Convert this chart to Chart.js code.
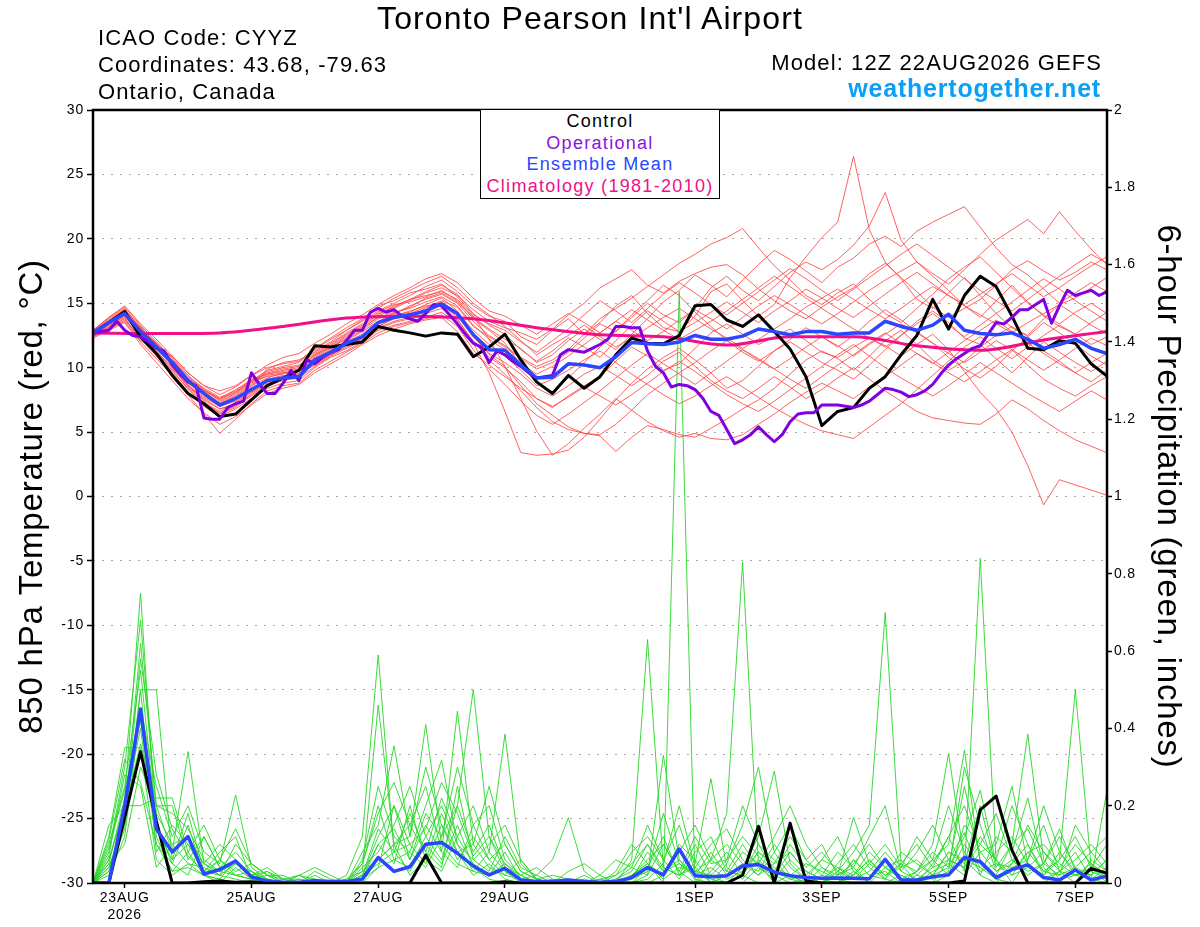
<!DOCTYPE html>
<html>
<head>
<meta charset="utf-8">
<title>Toronto Pearson Int'l Airport - GEFS</title>
<script src="https://cdn.jsdelivr.net/npm/chart.js@4.4.1/dist/chart.umd.min.js"></script>
<style>
  html, body { margin: 0; padding: 0; background: #fff; }
  #wrap { position: relative; width: 1200px; height: 927px; overflow: hidden;
          font-family: "Liberation Sans", Arial, sans-serif; color: #000; }
  #wrap canvas { position: absolute; left: 0; top: 0; }
  .txt { position: absolute; line-height: 1; white-space: nowrap; }
  .hdr { font-size: 22px; letter-spacing: 1.1px; }
  #legend { position: absolute; left: 480px; top: 109px; width: 240px; height: 90px;
            box-sizing: border-box; border: 1.5px solid #000; background: #fff; }
  #legend div { position: absolute; left: 0; width: 100%; text-align: center;
                font-size: 18px; letter-spacing: 1.3px; line-height: 1; white-space: nowrap; }
</style>
</head>
<body>
<div id="wrap">
  <canvas id="chart" width="1200" height="927"></canvas>

  <div class="txt" style="left:0; width:1180px; top:2px; text-align:center; font-size:32px; letter-spacing:1.1px;">Toronto Pearson Int'l Airport</div>
  <div class="txt hdr" style="left:98px; top:27px;">ICAO Code: CYYZ</div>
  <div class="txt hdr" style="left:98px; top:54px;">Coordinates: 43.68, -79.63</div>
  <div class="txt hdr" style="left:98px; top:81px;">Ontario, Canada</div>
  <div class="txt hdr" style="right:98px; top:52px;">Model: 12Z 22AUG2026 GEFS</div>
  <div class="txt" style="right:99px; top:76px; font-size:25px; font-weight:bold; letter-spacing:0.8px; color:#0aa0f8;">weathertogether.net</div>

  <div id="legend">
    <div style="top:2px; color:#000;">Control</div>
    <div style="top:23.5px; color:#8a14e0;">Operational</div>
    <div style="top:45px; color:#2a48ff;">Ensemble Mean</div>
    <div style="top:66.5px; color:#f0108a;">Climatology (1981-2010)</div>
  </div>
</div>

<script>
// forecast from 12Z 22AUG, 6-hourly (ensemble, control, mean) and 3-hourly (operational)
const stepHours = 6;
const opStepHours = 3;

const tickHours = [12, 60, 108, 156, 228, 276, 324, 372];
const tickLabels = [['23AUG', '2026'], '25AUG', '27AUG', '29AUG', '1SEP', '3SEP', '5SEP', '7SEP'];

// climatology, once a day
const climHours = [0, 24, 48, 72, 96, 120, 144, 168, 192, 216, 240, 264, 288, 312, 336, 360, 384];
const climTemp = [12.7, 12.65, 12.7, 13.2, 13.85, 14.0, 13.8, 13.1, 12.55, 12.4, 11.75, 12.4, 12.4, 11.7, 11.35, 12.15, 12.8];

// 850 hPa temperature, deg C
const ctrlTemp = [12.7,13.5,14.35,12.4,11.1, 9.4,8.0,7.2,6.2,6.4, 7.5,8.6,9.2,9.8,11.7, 11.6,11.8,12.0,13.2,12.9,
  12.7,12.45,12.7,12.6,10.85, 11.6,12.6,10.6,8.9,8.0, 9.4,8.4,9.3,11.0,12.3, 11.9,11.85,12.5,14.8,14.9,
  13.7,13.2,14.1,12.8,11.45, 9.3,5.5,6.6,6.9,8.4, 9.3,11.0,12.5,15.3,13.0, 15.6,17.1,16.3,14.0,11.5,
  11.4,12.1,11.9,10.3,9.35];

const meanTemp = [12.7,13.5,14.2,12.8,11.6, 10.4,9.0,8.0,7.1,7.6, 8.3,9.0,9.2,9.3,10.6, 11.2,11.9,12.4,13.5,13.9,
  14.1,14.4,14.95,14.2,12.55, 11.4,11.35,10.2,9.2,9.25, 10.3,10.2,10.0,10.85,11.95, 11.85,11.8,12.0,12.5,12.2,
  12.2,12.45,13.0,12.8,12.55, 12.8,12.8,12.6,12.7,12.7, 13.6,13.2,12.9,13.3,14.15, 12.9,12.65,12.55,12.7,12.2,
  11.5,11.8,12.2,11.5,11.1];

const opTemp = [12.7,12.8,12.9,13.6,12.9, 12.5,12.4,12.0,11.5,11.3, 10.2,9.5,8.9,8.6,6.1, 6.0,6.0,6.9,7.2,7.4,
  9.6,8.7,8.0,8.0,8.8, 9.8,9.0,10.6,10.3,10.8, 11.2,11.4,12.1,12.9,12.9, 14.3,14.6,14.3,14.5,14.0,
  13.8,13.6,14.2,14.9,14.8, 14.1,13.4,12.6,11.9,11.6, 10.4,11.3,11.0,10.5,10.1, 9.6,9.2,9.3,9.4,11.0,
  11.4,11.3,11.2,11.5,11.8, 12.2,13.2,13.2,13.1,13.1, 11.3,10.1,9.6,8.5,8.7, 8.6,8.3,7.6,6.6,6.3,
  5.2,4.1,4.4,4.8,5.4, 4.8,4.25,4.8,5.8,6.4, 6.5,6.5,7.1,7.1,7.1, 7.0,6.9,7.1,7.4,7.9,
  8.4,8.3,8.1,7.75,7.9, 8.2,8.7,9.5,10.2,10.7, 11.1,11.5,11.7,12.6,13.5, 13.4,13.9,14.5,14.5,14.9,
  15.3,13.45,14.8,16.0,15.6, 15.8,16.0,15.6,15.9];

const memT01 = [12.9,13.8,14.6,13.0,11.9, 10.8,9.4,8.3,7.4,8.0, 8.9,9.6,9.9,10.1,11.3, 12.0,12.9,13.6,14.4,15.0,
  15.6,16.3,16.8,15.9,14.8, 14.0,13.6,12.4,11.8,12.9, 13.8,12.6,13.5,14.8,15.6, 14.2,13.1,12.8,14.0,15.9,
  16.5,15.2,14.0,14.9,17.0, 18.6,20.1,21.3,26.4,20.7, 18.2,16.9,15.3,14.6,15.8, 17.0,15.6,14.2,13.1,12.5,
  13.8,14.9,15.4,16.2,17.0];
const memT02 = [12.5,13.2,14.0,12.5,11.2, 10.1,8.6,7.6,6.8,7.1, 7.9,8.7,9.1,9.6,10.2, 10.9,11.8,12.2,13.1,13.6,
  13.9,14.6,15.2,14.7,13.2, 12.4,11.6,10.7,9.9,10.4, 11.2,12.3,13.4,12.8,13.9, 15.0,14.1,13.5,14.6,16.2,
  17.1,16.0,15.2,16.3,17.4, 18.2,17.6,18.4,19.5,21.0, 23.6,19.9,18.2,17.1,16.0, 14.8,13.9,15.2,16.4,15.1,
  14.0,13.2,12.6,13.5,14.3];
const memT03 = [12.8,13.6,14.3,13.1,11.7, 10.6,9.1,8.2,7.6,8.3, 9.0,9.3,9.5,9.8,10.9, 11.6,12.2,12.9,13.8,14.2,
  14.7,15.4,15.8,15.1,13.9, 13.0,12.2,11.5,10.4,11.0, 12.1,13.0,12.2,11.4,12.6, 13.8,15.1,16.0,17.2,16.4,
  15.5,16.8,18.0,19.1,18.4, 17.5,16.6,17.8,18.5,19.6, 20.2,19.4,20.6,21.3,21.9, 22.5,20.9,19.3,18.0,17.2,
  16.1,15.0,15.8,16.6,15.9];
const memT04 = [12.4,13.0,13.7,12.2,10.9, 9.6,8.1,7.0,6.2,6.8, 7.6,8.4,8.8,9.0,10.0, 10.8,11.3,12.0,12.9,13.3,
  13.6,13.9,14.3,13.5,12.0, 10.8,10.0,8.9,7.6,6.9, 7.8,8.6,9.3,10.5,11.6, 10.9,9.8,10.3,11.5,12.7,
  13.4,12.6,11.8,12.4,13.0, 12.1,11.2,10.8,11.6,12.3, 11.7,10.9,11.8,12.6,11.4, 9.7,8.1,6.8,5.0,2.4,
  -0.65,1.3,0.9,0.5,0.1];
const memT05 = [12.6,13.4,14.1,12.7,11.4, 10.2,8.8,7.8,7.0,7.4, 8.2,9.1,9.4,9.3,10.5, 11.1,11.7,12.5,13.4,14.0,
  14.4,14.8,15.0,13.8,11.9, 9.6,6.6,3.4,3.2,3.3, 3.6,4.6,6.0,7.5,8.8, 9.9,10.8,11.5,10.6,9.6,
  8.4,9.0,10.1,11.3,12.0, 11.2,10.4,9.8,9.1,10.2, 11.4,12.5,13.6,14.4,13.5, 12.3,11.8,10.7,9.6,10.8,
  12.0,11.2,10.4,9.7,10.5];
const memT06 = [12.7,13.5,14.4,12.9,11.6, 10.3,8.7,7.4,6.4,6.9, 8.0,8.8,9.1,9.5,10.7, 11.4,12.0,12.6,13.5,14.1,
  14.3,14.9,15.4,14.4,12.6, 11.0,10.1,8.6,7.2,6.3, 5.4,4.9,4.7,3.5,4.6, 5.5,5.2,4.8,4.6,5.3,
  6.0,6.8,7.5,8.4,9.5, 10.6,11.3,10.7,9.8,10.9, 12.1,12.9,11.8,10.6,9.8, 10.5,11.6,12.5,13.2,12.4,
  11.3,10.5,9.6,8.9,9.8];
const memT07 = [12.6,13.6,14.5,13.2,11.8, 10.5,9.0,8.0,7.2,7.7, 8.6,9.2,9.6,9.7,10.8, 11.5,12.3,13.0,14.0,14.6,
  15.2,15.8,16.2,15.6,14.5, 13.6,13.1,12.7,12.2,13.0, 14.1,15.0,16.2,16.9,17.6, 16.4,15.8,16.7,17.3,17.8,
  18.0,17.2,16.1,15.2,14.4, 13.8,14.7,15.5,16.2,17.3, 18.1,17.0,15.9,14.7,13.9, 14.6,15.3,16.4,17.6,18.3,
  17.5,16.8,17.4,18.2,17.6];
const memT08 = [12.8,13.7,14.5,13.1,11.8, 10.4,8.9,7.9,7.2,7.8, 8.7,9.4,9.6,9.8,10.6, 11.3,12.1,12.8,13.6,14.2,
  14.8,15.3,15.7,15.0,13.6, 12.5,11.7,10.8,10.1,10.6, 11.4,12.6,13.8,14.6,15.4, 16.3,17.2,18.1,18.8,19.6,
  20.1,20.8,19.3,17.9,16.8, 15.6,14.9,15.8,16.5,15.3, 14.2,13.5,14.6,15.7,16.9, 17.8,18.6,17.4,16.2,15.0,
  14.1,13.4,14.3,15.0,14.2];
const memT09 = [12.5,13.3,14.0,12.6,11.3, 10.0,8.5,7.5,6.8,7.2, 8.1,8.9,9.3,9.4,10.3, 11.0,11.6,12.3,13.2,13.8,
  14.1,14.5,14.9,14.0,12.4, 11.1,10.4,9.5,8.4,7.8, 8.6,9.5,10.1,9.4,8.6, 9.4,10.5,11.2,10.1,9.0,
  8.2,7.6,8.4,9.3,8.5, 7.6,8.3,9.2,10.0,9.1, 8.2,7.4,6.6,6.1,5.9, 5.7,5.6,6.4,7.5,6.8,
  5.9,5.1,4.4,3.9,3.4];
const memT10 = [12.7,13.4,14.2,12.9,11.6, 10.4,9.0,8.1,7.3,7.9, 8.8,9.5,9.8,10.0,11.0, 11.6,12.4,13.1,13.9,14.3,
  14.6,15.1,15.5,14.8,13.3, 12.2,11.4,10.3,9.5,10.1, 10.9,11.8,12.7,13.6,12.9, 12.1,12.8,13.7,14.5,13.8,
  13.0,13.9,14.8,15.6,14.9, 14.1,13.4,14.2,15.1,16.0, 16.8,17.5,18.2,17.3,16.5, 17.6,18.8,19.9,20.7,21.5,
  20.4,22.1,20.6,19.2,18.0];
const memT11 = [12.6,13.3,14.1,12.4,11.1, 9.8,8.3,7.2,6.5,7.0, 7.8,8.6,9.0,9.2,10.1, 10.9,11.5,12.1,13.0,13.5,
  13.8,14.2,14.6,13.7,12.1, 10.6,9.5,8.2,6.9,5.8, 5.2,4.9,4.8,5.6,6.7, 7.9,8.8,9.6,10.4,11.3,
  12.1,11.4,10.6,9.9,10.7, 11.6,12.4,11.7,10.9,11.8, 12.6,13.4,12.7,11.9,11.1, 10.4,11.2,12.1,11.4,10.6,
  9.8,10.6,11.5,12.3,11.7];
const memT12 = [12.9,13.9,14.7,13.3,12.0, 10.7,9.2,8.3,7.6,8.1, 8.9,9.7,10.0,10.2,11.1, 11.8,12.6,13.3,14.2,14.7,
  15.3,15.6,15.9,15.3,14.0, 12.2,10.1,7.6,5.1,3.2, 4.1,5.3,6.4,7.6,6.7, 5.8,5.1,4.6,4.9,4.5,
  4.4,4.8,5.6,6.4,7.3, 8.1,8.8,8.2,7.6,8.5, 9.3,10.2,11.1,10.4,9.6, 8.9,9.7,10.6,11.4,10.2,
  9.1,8.4,7.8,8.6,9.3];
const memT13 = [12.6,13.5,14.3,13.0,11.7, 10.5,9.1,8.2,7.5,8.1, 9.0,9.8,10.1,10.4,11.4, 12.2,12.9,13.7,14.6,15.4,
  16.0,16.6,17.1,16.2,15.0, 14.1,13.2,12.1,11.0,11.8, 12.5,13.3,12.4,11.6,12.3, 13.1,13.9,14.6,13.8,13.0,
  12.3,11.5,12.2,13.0,13.8, 14.7,15.4,16.1,15.3,14.5, 13.8,14.6,15.5,16.3,15.6, 14.8,14.1,13.4,12.7,13.5,
  14.2,14.9,14.1,13.3,12.6];
const memT14 = [12.5,13.1,13.8,12.3,11.0, 9.7,8.4,7.3,6.6,7.3, 8.1,8.9,9.2,9.3,10.4, 11.0,11.8,12.4,13.2,13.9,
  14.2,14.7,15.1,14.3,12.9, 11.8,10.9,9.8,8.6,9.1, 9.8,10.6,11.3,10.4,9.5, 8.7,7.9,7.2,7.8,8.6,
  9.3,8.5,7.7,6.9,6.2, 5.6,5.1,4.8,4.5,5.4, 6.3,7.2,8.3,9.4,10.5, 11.6,12.4,11.5,10.7,11.6,
  12.5,13.3,12.6,11.8,12.4];
const memT15 = [12.7,13.6,14.4,13.1,11.9, 10.6,9.3,8.4,7.7,8.2, 9.1,9.5,9.7,9.9,11.0, 11.7,12.5,13.2,14.1,14.8,
  15.3,15.9,16.4,15.7,14.2, 13.3,12.6,11.4,10.5,11.3, 12.3,11.6,10.8,12.1,13.3, 14.4,13.6,12.8,13.5,14.3,
  15.1,14.3,13.5,14.4,15.2, 16.1,15.4,14.6,13.9,14.8, 15.7,16.6,17.4,16.5,15.6, 14.9,15.7,16.5,17.3,16.4,
  15.5,16.2,17.1,17.9,18.6];
const memT16 = [12.4,13.0,13.6,12.0,10.7, 9.4,7.9,6.4,4.9,6.0, 7.2,8.2,8.6,8.8,9.8, 10.5,11.2,11.9,12.7,13.2,
  13.5,13.8,14.1,13.2,11.4, 9.9,8.7,7.4,6.3,5.6, 6.4,7.3,8.2,9.2,10.2, 11.1,10.3,9.5,8.7,9.6,
  10.5,11.4,10.7,9.9,9.1, 8.4,9.3,10.2,11.0,11.9, 12.7,11.9,11.1,10.3,11.2, 12.1,12.9,13.7,12.8,11.9,
  11.1,10.3,9.6,10.4,11.1];
const memT17 = [12.8,13.6,14.5,12.6,11.2, 9.9,8.6,7.7,7.0,7.6, 8.5,9.9,10.4,10.6,11.2, 11.9,12.7,13.4,14.3,14.9,
  15.1,15.5,16.0,15.2,13.8, 12.9,11.9,10.2,8.8,8.1, 9.2,10.4,11.6,12.8,14.1, 15.2,16.4,15.6,14.3,13.2,
  12.1,11.2,10.5,11.3,12.2, 13.1,12.4,11.6,12.5,13.6, 14.5,13.7,12.8,11.9,10.8, 9.9,9.2,10.1,11.3,12.4,
  13.5,12.7,11.8,10.9,10.2];
const memT18 = [12.6,13.1,13.9,12.1,11.5, 10.9,9.6,8.6,8.2,8.6, 9.4,10.2,10.8,11.1,11.9, 12.6,13.4,14.1,14.9,15.6,
  16.2,16.9,17.3,16.6,15.4, 14.4,14.0,13.3,12.6,13.4, 14.2,13.5,12.7,13.6,14.5, 13.7,12.9,12.2,12.9,13.6,
  14.4,15.3,16.2,17.1,16.3, 15.4,14.6,13.8,13.0,12.3, 11.6,12.5,13.4,14.2,13.3, 12.4,13.3,14.2,15.1,16.0,
  16.9,16.1,15.2,14.4,13.6];
const memT19 = [12.3,12.9,13.5,11.8,10.4, 9.0,7.6,6.5,5.6,6.2, 7.1,8.0,8.4,8.7,9.6, 10.3,11.0,11.8,12.5,13.0,
  13.4,13.7,13.9,12.8,11.1, 10.2,9.3,8.4,7.6,7.0, 7.7,8.5,7.8,7.1,7.9, 8.8,9.7,10.5,9.7,8.8,
  7.9,7.2,6.6,7.4,8.3, 9.2,10.1,11.0,11.8,10.9, 10.0,9.2,8.5,7.8,8.6, 9.5,10.4,9.6,8.8,8.0,
  7.3,6.6,7.4,8.2,7.5];
const memT20 = [12.9,13.9,14.8,13.4,12.2, 10.9,9.6,8.6,7.9,8.5, 9.4,10.0,10.3,10.5,11.5, 12.3,13.1,13.8,14.8,15.2,
  15.8,16.1,16.5,15.5,14.1, 13.4,12.9,12.0,11.2,12.1, 13.0,14.1,15.2,14.4,13.5, 14.6,15.7,16.6,15.8,14.9,
  14.1,15.0,15.9,16.8,17.7, 16.9,16.0,15.2,16.1,17.0, 17.9,18.8,19.6,18.7,17.8, 16.9,16.0,15.2,14.4,15.3,
  16.2,17.1,18.0,18.8,18.1];

// 6-hour precipitation, inches
const ctrlPrecip = [0,0,0.17,0.34,0.16, 0,0,0.003,0.005,0.002, 0.003,0,0,0,0.004, 0.002,0,0,0,0,
  0,0.072,0,0,0, 0,0.003,0,0,0, 0,0,0,0,0, 0,0,0,0,0,
  0,0.02,0.147,0,0.155, 0.005,0,0,0,0, 0,0,0,0,0, 0.005,0.189,0.225,0.085,0,
  0,0,0,0.038,0.025];

const meanPrecip = [0,0,0.2,0.45,0.14, 0.08,0.12,0.023,0.035,0.057, 0.016,0.005,0.002,0.002,0.006, 0.004,0.004,0.01,0.066,0.03,
  0.042,0.1,0.105,0.077,0.044, 0.021,0.038,0.008,0.004,0.004, 0.008,0.004,0.002,0.004,0.014, 0.04,0.021,0.088,0.019,0.016,
  0.019,0.044,0.048,0.028,0.019, 0.014,0.012,0.013,0.012,0.011, 0.061,0.008,0.008,0.016,0.021, 0.066,0.055,0.014,0.035,0.047,
  0.014,0.008,0.034,0.008,0.018];

const memP01 = [0,0.05,0.22,0.75,0.12, 0.03,0.08,0.02,0.01,0, 0,0,0,0,0, 0,0.02,0.12,0.59,0.08,
  0.03,0.1,0.05,0.15,0.04, 0.01,0,0,0,0, 0,0,0,0,0.02, 0.05,0,1.53,0,0.03,
  0.08,0.02,0,0,0, 0,0.04,0.01,0,0, 0,0.02,0,0.05,0.12, 0.03,0.84,0.06,0,0,
  0,0.03,0.08,0.01,0];
const memP02 = [0,0.08,0.3,0.68,0.18, 0.1,0.05,0.02,0,0.04, 0.01,0,0,0,0, 0,0,0.03,0.46,0.1,
  0.02,0.06,0.18,0.08,0.02, 0.05,0.01,0,0,0, 0,0,0,0.01,0.04, 0.02,0.1,0.03,0,0.06,
  0.18,0.83,0.05,0,0.02, 0,0,0,0.03,0, 0,0,0.01,0,0.06, 0.13,0.02,0,0.05,0.1,
  0.02,0.06,0.5,0.04,0];
const memP03 = [0,0.03,0.18,0.62,0.2, 0.08,0.34,0.05,0.02,0.01, 0,0,0,0.02,0, 0,0,0.05,0.2,0.06,
  0.08,0.04,0.12,0.2,0.5, 0.12,0.03,0,0,0, 0,0,0,0,0, 0.01,0.05,0.2,0.04,0,
  0,0.02,0.1,0.06,0.01, 0,0,0.03,0.08,0.15, 0.7,0.05,0,0,0.02, 0.1,0.04,0.01,0,0.06,
  0.15,0.03,0,0,0.02];
const memP04 = [0,0.1,0.25,0.55,0.15, 0.05,0.02,0.12,0.04,0.02, 0.03,0,0,0,0, 0,0,0.08,0.15,0.355,
  0.12,0.41,0.1,0.05,0.03, 0.02,0.08,0.01,0,0, 0,0,0,0,0.06, 0.63,0.04,0.02,0.1,0.02,
  0,0.04,0.12,0.29,0.05, 0.01,0,0,0.02,0.06, 0.01,0,0,0.02,0.08, 0.05,0.2,0.04,0.1,0.385,
  0.06,0.01,0.02,0.04,0.1];
const memP05 = [0,0.04,0.15,0.5,0.08, 0.15,0.1,0.03,0.06,0.02, 0.01,0.03,0,0,0, 0,0,0,0.04,0.2,
  0.06,0.15,0.08,0.445,0.1, 0.04,0.02,0.06,0.01,0, 0,0,0,0,0, 0.02,0.33,0.06,0.01,0,
  0.05,0.15,0.3,0.08,0.02, 0,0.02,0.08,0.04,0, 0,0,0.03,0.1,0.335, 0.06,0.02,0.12,0.08,0.22,
  0.04,0,0,0.06,0.03];
const memP06 = [0,0.02,0.12,0.45,0.25, 0.12,0.2,0.08,0.05,0.228, 0.04,0.01,0,0,0, 0,0,0.02,0.1,0.05,
  0.2,0.06,0.03,0.12,0.2, 0.08,0.385,0.05,0.01,0, 0,0,0,0,0.01, 0.08,0.03,0.05,0.02,0.01,
  0,0,0.04,0.02,0.08, 0.03,0.01,0,0.06,0.02, 0.03,0,0.02,0.06,0.1, 0.344,0.05,0.01,0.03,0.08,
  0.1,0.05,0.02,0.01,0.24];
const memP07 = [0,0.06,0.2,0.4,0.1, 0.05,0.15,0.02,0.01,0.06, 0.02,0.04,0.01,0,0.03, 0.01,0,0.06,0.25,0.12,
  0.08,0.2,0.318,0.1,0.06, 0.03,0.12,0.04,0.02,0.06, 0.169,0.03,0,0,0, 0.04,0.12,0.02,0.05,0.27,
  0.04,0.01,0.06,0.02,0, 0.01,0.06,0.12,0.03,0, 0.04,0.02,0,0.03,0.05, 0.02,0.08,0.1,0.25,0.05,
  0.01,0.03,0.06,0.1,0.05];
const memP08 = [0,0.12,0.35,0.35,0.06, 0.02,0.05,0.04,0.02,0.1, 0.05,0.02,0,0,0.02, 0,0,0.04,0.08,0.15,
  0.25,0.12,0.06,0.2,0.08, 0.15,0.04,0.02,0,0, 0.03,0.05,0.02,0,0, 0,0.02,0.1,0.06,0,
  0.02,0.08,0.05,0.12,0.2, 0.1,0.04,0.02,0.17,0.05, 0.02,0.05,0.03,0.06,0.02, 0.15,0.1,0.06,0.02,0.04,
  0.08,0.04,0.1,0.05,0.01];
const memP09 = [0,0.05,0.1,0.3,0.2, 0.2,0.06,0.12,0.04,0.08, 0.03,0.01,0,0.02,0.04, 0.02,0,0.02,0.12,0.2,
  0.1,0.05,0.15,0.06,0.12, 0.06,0.1,0.03,0.01,0, 0,0,0.02,0.06,0.04, 0.15,0.06,0.01,0.08,0.12,
  0.03,0.1,0.04,0.01,0.06, 0.02,0,0.05,0.1,0.04, 0.01,0.08,0.05,0.02,0.04, 0.25,0.06,0.02,0.1,0.14,
  0.05,0.12,0.04,0.02,0.06];
const memP10 = [0,0.07,0.28,0.25,0.04, 0.1,0.12,0.05,0.03,0.05, 0.02,0.03,0.01,0.01,0, 0,0.01,0.03,0.06,0.1,
  0.15,0.25,0.08,0.04,0.15, 0.2,0.06,0.02,0.04,0.01, 0,0.02,0,0.03,0.1, 0.05,0.01,0.04,0.03,0.06,
  0.1,0.05,0.02,0.08,0.15, 0.06,0.1,0.02,0.04,0.12, 0.2,0.03,0.08,0.15,0.06, 0.04,0.12,0.06,0.2,0.1,
  0.03,0.02,0.15,0.08,0.12];
const memP11 = [0,0.15,0.2,0.2,0.22, 0.22,0.08,0.15,0.06,0.03, 0.05,0.02,0.02,0,0.01, 0,0,0.01,0.04,0.06,
  0.04,0.12,0.2,0.1,0.03, 0.08,0.03,0.01,0.02,0, 0,0,0.01,0.02,0.05, 0.1,0.03,0.06,0.02,0.04,
  0.01,0.03,0.08,0.04,0.02, 0.05,0.03,0.01,0.02,0.08, 0.04,0.06,0.02,0.01,0.03, 0.3,0.15,0.03,0.06,0.02,
  0.05,0.14,0.03,0.01,0.04];
const memP12 = [0,0.03,0.14,0.5,0.5, 0.06,0.18,0.03,0.08,0.12, 0.01,0,0.01,0.02,0.01, 0,0,0.02,0.05,0.08,
  0.18,0.08,0.04,0.25,0.06, 0.1,0.15,0.06,0.01,0.02, 0.01,0,0,0,0.02, 0.06,0.1,0.03,0.12,0.05,
  0.06,0.2,0.1,0.03,0.1, 0.04,0.08,0.03,0.01,0.05, 0.1,0.04,0.12,0.06,0.2, 0.08,0.03,0.05,0.04,0.06,
  0.2,0.08,0.02,0.03,0.01];
const memP13 = [0,0.09,0.24,0.42,0.14, 0.06,0.1,0.05,0.1,0.06, 0.02,0.01,0,0,0.01, 0,0.01,0.05,0.18,0.26,
  0.15,0.08,0.22,0.12,0.05, 0.02,0.05,0.02,0,0.01, 0,0.01,0,0.02,0.08, 0.12,0.06,0.15,0.03,0.02,
  0.06,0.12,0.07,0.03,0.01, 0.02,0.06,0.04,0.01,0.03, 0.08,0.03,0.01,0.04,0.12, 0.2,0.08,0.03,0.05,0.15,
  0.08,0.03,0.02,0.05,0.02];
const memP14 = [0,0.04,0.16,0.58,0.28, 0.14,0.07,0.03,0.02,0.05, 0.03,0,0,0,0, 0,0,0.01,0.1,0.14,
  0.06,0.18,0.12,0.3,0.15, 0.06,0.02,0.01,0,0, 0,0,0,0,0.01, 0.03,0.18,0.05,0.02,0.08,
  0.02,0.05,0.03,0.1,0.04, 0.01,0,0.02,0.05,0.1, 0.04,0.01,0.03,0.08,0.04, 0.12,0.24,0.05,0.02,0.08,
  0.03,0.06,0.12,0.04,0.01];
const memP15 = [0,0.11,0.32,0.26,0.1, 0.03,0.04,0.02,0.06,0.14, 0.05,0.02,0.01,0,0, 0,0,0.02,0.06,0.1,
  0.12,0.3,0.15,0.08,0.1, 0.25,0.1,0.03,0.01,0, 0,0,0.01,0,0.02, 0.05,0.02,0.08,0.15,0.06,
  0.03,0.02,0.08,0.05,0.12, 0.06,0.02,0.01,0.06,0.02, 0.01,0.05,0.1,0.04,0.06, 0.04,0.1,0.18,0.06,0.03,
  0.05,0.02,0.04,0.08,0.03];
const memP16 = [0,0.06,0.19,0.36,0.2, 0.18,0.14,0.06,0.03,0.02, 0.01,0.02,0,0.01,0, 0,0,0.02,0.14,0.08,
  0.1,0.14,0.26,0.18,0.07, 0.12,0.05,0.01,0,0, 0,0,0,0.01,0.03, 0.1,0.04,0.02,0.04,0.1,
  0.14,0.06,0.02,0.05,0.08, 0.03,0.01,0.04,0.02,0.06, 0.02,0.04,0.06,0.02,0.08, 0.06,0.04,0.08,0.12,0.05,
  0.02,0.08,0.03,0.02,0.06];

const tempMembers = [memT01, memT02, memT03, memT04, memT05, memT06, memT07, memT08, memT09, memT10,
                     memT11, memT12, memT13, memT14, memT15, memT16, memT17, memT18, memT19, memT20];
const precipMembers = [memP01, memP02, memP03, memP04, memP05, memP06, memP07, memP08,
                       memP09, memP10, memP11, memP12, memP13, memP14, memP15, memP16];

function series(values, step) {
  return values.map((v, i) => ({ x: i * step, y: v }));
}

const datasets = [];
tempMembers.forEach(m => datasets.push({
  data: series(m, stepHours), yAxisID: 'y', borderColor: 'rgba(255,70,70,0.85)', borderWidth: 1, order: 9
}));
precipMembers.forEach(m => datasets.push({
  data: series(m, stepHours), yAxisID: 'y2', borderColor: 'rgba(40,215,40,0.9)', borderWidth: 1, order: 8
}));
datasets.push({
  data: climHours.map((h, i) => ({ x: h, y: climTemp[i] })), yAxisID: 'y',
  borderColor: '#f0108a', borderWidth: 3, cubicInterpolationMode: 'monotone', order: 5
});
datasets.push({ data: series(ctrlPrecip, stepHours), yAxisID: 'y2', borderColor: '#000', borderWidth: 3, order: 4 });
datasets.push({ data: series(ctrlTemp, stepHours), yAxisID: 'y', borderColor: '#000', borderWidth: 3, order: 4 });
datasets.push({ data: series(opTemp, opStepHours), yAxisID: 'y', borderColor: '#8000e0', borderWidth: 3, order: 3 });
datasets.push({ data: series(meanPrecip, stepHours), yAxisID: 'y2', borderColor: '#2a46ff', borderWidth: 3.5, order: 2 });
datasets.push({ data: series(meanTemp, stepHours), yAxisID: 'y', borderColor: '#2a46ff', borderWidth: 3.5, order: 2 });

const framePlugin = {
  id: 'frame',
  beforeInit(chart) { chart.ctx.letterSpacing = '0.8px'; },
  beforeDraw(chart) { chart.ctx.letterSpacing = '0.8px'; },
  afterDraw(chart) {
    const { ctx, chartArea: a } = chart;
    ctx.save();
    ctx.strokeStyle = '#000';
    ctx.lineWidth = 2.5;
    ctx.strokeRect(a.left, a.top, a.right - a.left, a.bottom - a.top);
    ctx.restore();
  }
};

Chart.defaults.font.family = '"Liberation Sans", Arial, sans-serif';
Chart.defaults.color = '#000';

new Chart(document.getElementById('chart'), {
  type: 'line',
  data: { datasets },
  plugins: [framePlugin],
  options: {
    responsive: false,
    animation: false,
    devicePixelRatio: 1,
    layout: { padding: { top: 110, left: 0, right: 0, bottom: 0 } },
    elements: {
      point: { radius: 0 },
      line: { tension: 0, borderJoinStyle: 'round', borderCapStyle: 'round' }
    },
    plugins: { legend: { display: false }, tooltip: { enabled: false } },
    scales: {
      x: {
        type: 'linear', min: 0, max: 384,
        afterBuildTicks: s => { s.ticks = tickHours.map(v => ({ value: v })); },
        afterFit: s => { s.height = 44; },
        ticks: {
          autoSkip: false, maxRotation: 0, padding: 2, font: { size: 14 },
          callback: v => tickLabels[tickHours.indexOf(v)]
        },
        grid: { drawOnChartArea: false, tickLength: 5, tickColor: '#000', tickWidth: 1.5 },
        border: { display: false }
      },
      y: {
        position: 'left', min: -30, max: 30,
        afterFit: s => { s.width = 93; },
        ticks: { stepSize: 5, padding: 3, font: { size: 14 } },
        grid: { color: '#a8a8a8', lineWidth: 1, tickColor: '#000', tickLength: 6, tickWidth: 1.5 },
        border: { display: false, dash: [2, 7] },
        title: {
          display: true, text: '850 hPa Temperature (red, °C)',
          font: { size: 33 }, padding: { top: 13, bottom: 0 }
        }
      },
      y2: {
        position: 'right', min: 0, max: 2,
        afterFit: s => { s.width = 93; },
        ticks: { stepSize: 0.2, padding: 2, font: { size: 14 }, callback: v => String(+v.toFixed(1)) },
        grid: { drawOnChartArea: false, tickColor: '#000', tickLength: 5, tickWidth: 1.5 },
        border: { display: false },
        title: {
          display: true, text: '6-hour Precipitation (green, inches)',
          font: { size: 33 }, padding: { top: 13, bottom: 0 }
        }
      }
    }
  }
});
</script>
</body>
</html>
